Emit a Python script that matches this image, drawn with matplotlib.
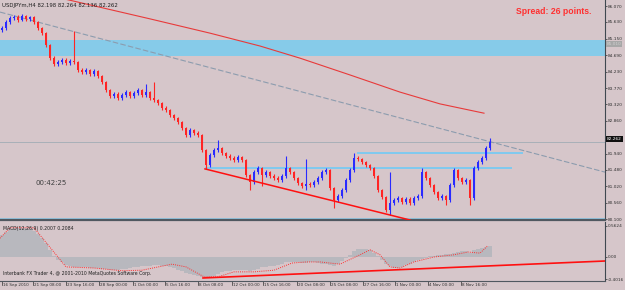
import matplotlib
matplotlib.use("Agg")
import matplotlib.pyplot as plt
import matplotlib.transforms as mtransforms

# ---------------- data ----------------
first_open = 85.40
close = [85.45, 85.62, 85.73, 85.76, 85.68, 85.79, 85.71, 85.76, 85.62, 85.45,
         85.31, 84.98, 84.61, 84.45, 84.50, 84.56, 84.47, 84.53, 84.50, 84.28,
         84.22, 84.28, 84.17, 84.25, 84.11, 83.94, 83.72, 83.55, 83.61, 83.49,
         83.58, 83.66, 83.55, 83.63, 83.72, 83.58, 83.66, 83.49, 83.44, 83.35,
         83.21, 83.16, 83.02, 82.93, 82.82, 82.65, 82.46, 82.60, 82.51, 82.46,
         82.04, 81.62, 81.90, 82.04, 82.09, 81.95, 81.87, 81.81, 81.76, 81.84,
         81.76, 81.34, 81.14, 81.42, 81.53, 81.34, 81.42, 81.31, 81.25, 81.20,
         81.31, 81.53, 81.42, 81.25, 81.11, 81.03, 81.09, 81.06, 81.14, 81.25,
         81.42, 81.48, 80.97, 80.64, 80.75, 80.92, 81.20, 81.48, 81.81, 81.78,
         81.70, 81.62, 81.53, 81.31, 80.92, 80.72, 80.36, 80.55, 80.64, 80.69,
         80.58, 80.67, 80.55, 80.69, 80.75, 81.42, 81.25, 81.06, 80.86, 80.69,
         80.75, 80.64, 81.06, 81.48, 81.25, 81.14, 81.20, 80.69, 81.53, 81.70,
         81.81, 82.09, 82.262]
high = [85.50, 85.67, 85.78, 85.81, 85.82, 85.84, 85.83, 85.80, 85.80, 85.66,
        85.49, 85.35, 85.02, 84.66, 84.56, 84.62, 84.61, 84.58, 85.37, 84.54,
        84.33, 84.33, 84.32, 84.30, 84.29, 84.15, 83.98, 83.76, 83.66, 83.65,
        83.63, 83.71, 83.70, 83.68, 83.77, 83.76, 83.89, 83.70, 83.94, 83.48,
        83.39, 83.26, 83.20, 83.06, 82.97, 82.86, 82.69, 82.65, 82.64, 82.56,
        82.50, 82.08, 81.95, 82.09, 82.32, 82.13, 81.99, 81.92, 81.86, 81.89,
        81.88, 81.80, 81.38, 81.47, 81.58, 81.57, 81.47, 81.46, 81.36, 81.30,
        81.36, 81.87, 81.57, 81.46, 81.29, 81.15, 81.79, 81.14, 81.19, 81.30,
        81.47, 81.53, 81.52, 81.01, 80.80, 80.97, 81.25, 81.53, 81.95, 81.86,
        81.82, 81.74, 81.66, 81.57, 81.35, 80.96, 80.76, 81.42, 80.69, 80.74,
        80.73, 80.72, 80.71, 80.74, 80.80, 81.53, 81.46, 81.29, 81.10, 80.90,
        80.80, 80.79, 81.11, 81.53, 81.52, 81.29, 81.25, 81.24, 81.58, 81.75,
        81.86, 82.14, 82.37]
low = [85.35, 85.40, 85.57, 85.68, 85.63, 85.64, 85.66, 85.66, 85.57, 85.40,
       85.26, 84.92, 84.55, 84.39, 84.40, 84.45, 84.42, 84.42, 84.45, 84.22,
       84.17, 84.17, 84.12, 84.12, 84.05, 83.88, 83.66, 83.49, 83.50, 83.44,
       83.44, 83.53, 83.50, 83.50, 83.58, 83.53, 83.53, 83.44, 83.39, 83.30,
       83.16, 83.11, 82.97, 82.88, 82.77, 82.60, 82.41, 82.41, 82.46, 82.41,
       81.98, 81.51, 81.57, 81.85, 81.99, 81.90, 81.82, 81.76, 81.71, 81.71,
       81.71, 81.28, 80.92, 81.09, 81.37, 81.03, 81.29, 81.26, 81.20, 81.15,
       81.15, 81.26, 81.37, 81.20, 81.06, 80.98, 80.92, 81.01, 81.01, 81.09,
       81.20, 81.37, 80.91, 80.41, 80.59, 80.70, 80.87, 81.15, 81.43, 81.73,
       81.65, 81.57, 81.48, 81.26, 80.86, 80.67, 80.30, 80.22, 80.50, 80.59,
       80.53, 80.53, 80.50, 80.50, 80.64, 80.70, 81.20, 81.01, 80.81, 80.64,
       80.64, 80.50, 80.59, 81.01, 81.20, 81.09, 81.09, 80.50, 80.64, 81.48,
       81.65, 81.76, 82.04]

# moving average (red curve) sampled at bar indices
ma_bars = [15.5, 37, 52, 64.5, 74.5, 87, 99.5, 109.5, 120.5]
ma_vals = [86.27, 85.71, 85.31, 84.95, 84.61, 84.14, 83.66, 83.33, 83.07]

# drawn objects
zone_low, zone_high = 84.67, 85.118
channel_bars, channel_vals = [-0.5, 150.75], [85.90, 81.42]
support_bars, support_vals = [50.75, 102.0], [81.51, 80.08]
res1_bars, res1_val = [88.75, 130.25], 81.955
res2_bars, res2_val = [50.75, 127.5], 81.535
floor_level = 80.100
bid = 82.262

# MACD
macd_hist = [0.40, 0.46, 0.50, 0.52, 0.53, 0.53, 0.52, 0.50, 0.47, 0.42,
             0.35, 0.25, 0.12, 0.02, -0.06, -0.10, -0.14, -0.16, -0.18, -0.18,
             -0.19, -0.19, -0.20, -0.20, -0.20, -0.21, -0.22, -0.23, -0.23, -0.23,
             -0.22, -0.21, -0.20, -0.19, -0.18, -0.17, -0.16, -0.16, -0.15, -0.15,
             -0.16, -0.17, -0.18, -0.20, -0.23, -0.26, -0.29, -0.31, -0.33, -0.34,
             -0.36, -0.38, -0.37, -0.34, -0.31, -0.28, -0.26, -0.25, -0.24, -0.23,
             -0.23, -0.24, -0.25, -0.23, -0.21, -0.19, -0.18, -0.17, -0.16, -0.14,
             -0.12, -0.10, -0.09, -0.09, -0.10, -0.11, -0.11, -0.10, -0.10, -0.11,
             -0.12, -0.13, -0.15, -0.16, -0.13, -0.08, -0.02, 0.04, 0.10, 0.14,
             0.15, 0.14, 0.12, 0.08, 0.02, -0.05, -0.12, -0.17, -0.20, -0.20,
             -0.18, -0.15, -0.12, -0.09, -0.06, -0.03, -0.01, 0.01, 0.02, 0.03,
             0.04, 0.05, 0.06, 0.08, 0.09, 0.10, 0.10, 0.08, 0.12, 0.15,
             0.17, 0.19, 0.2007]
signal_bars = [-0.5, 2, 8, 16, 23, 30, 35, 42.5, 46, 50.5, 54, 58, 63, 68, 72.5,
               76, 79.5, 84.5, 89.5, 92, 94.5, 97, 99.5, 103, 108, 113, 116.5,
               119.5, 121.5]
signal_vals = [0.34, 0.53, 0.53, -0.18, -0.20, -0.25, -0.24, -0.13, -0.18, -0.36,
               -0.36, -0.27, -0.27, -0.24, -0.11, -0.09, -0.09, -0.13, 0.04, 0.13,
               0.04, -0.18, -0.20, -0.09, 0.00, 0.04, 0.09, 0.07, 0.2084]
macd_trend_bars, macd_trend_vals = [50.25, 150.75], [-0.381, -0.073]

price_ticks = [86.070, 85.630, 85.150, 84.690, 84.230, 83.770, 83.320, 82.860,
               81.940, 81.480, 81.020, 80.560, 80.100]
macd_ticks = [0.5624, 0.0, -0.4016]
macd_tick_labels = ["0.5624", "0.00", "-0.4016"]
date_pos = [0, 7.75, 16, 24.25, 32.75, 40.75, 49, 57.5, 65.25, 73.75, 82,
            90.25, 98.25, 106.5, 114.75]
date_labels = ["16 Sep 2010", "21 Sep 08:00", "23 Sep 16:00", "28 Sep 00:00",
               "1 Oct 00:00", "5 Oct 16:00", "8 Oct 08:00", "12 Oct 00:00",
               "15 Oct 16:00", "20 Oct 08:00", "25 Oct 08:00", "27 Oct 16:00",
               "1 Nov 00:00", "4 Nov 00:00", "8 Nov 16:00"]

title_text = "USDJPYm,H4 82.198 82.264 82.136 82.262"
spread_text = "Spread: 26 points."
timer_text = "00:42:25"
macd_text = "MACD(12,26,9) 0.2007 0.2084"
copyright_text = "Interbank FX Trader 4, @ 2001-2010 MetaQuotes Software Corp."

# ---------------- style ----------------
W, H = 625, 290
BG = "#d6c6ca"
BULL = "#2a2aff"
BEAR = "#ff2424"
AXC = "#303030"
FONT = "DejaVu Sans"
TICK_FS = 3.1

fig = plt.figure(figsize=(W / 100, H / 100), dpi=100, facecolor=BG)

def fbox(x0, y0, x1, y1):
    return [x0 / W, 1 - y1 / H, (x1 - x0) / W, (y1 - y0) / H]

ax = fig.add_axes(fbox(0, 0, 605, 220))
ax2 = fig.add_axes(fbox(0, 222, 605, 281))
XL = (-0.5, 150.75)

for a in (ax, ax2):
    a.set_facecolor(BG)
    a.set_xlim(*XL)
    for s in ("left", "top"):
        a.spines[s].set_visible(False)
    a.spines["right"].set_color("#404850")
    a.spines["right"].set_linewidth(0.8)
    a.spines["bottom"].set_color("#505860")
    a.yaxis.tick_right()
    a.tick_params(axis="y", direction="out", length=1.5, width=0.5, pad=0.8,
                  labelsize=TICK_FS, colors=AXC)
    a.set_xticks([])

ax.set_ylim(80.08, 86.238)
ax.spines["bottom"].set_linewidth(1.6)
ax.set_yticks(price_ticks)
ax.set_yticklabels([f"{v:.3f}" for v in price_ticks], family=FONT)

# zone
ax.axhspan(zone_low, zone_high, color="#86cbe9", lw=0, zorder=1)
# floor level
ax.axhline(floor_level, color="#7fc8ea", lw=1.8, zorder=2)
# bid line
ax.axhline(bid, color="#a8b0b8", lw=0.7, zorder=2)
# channel (dashed)
ax.plot(channel_bars, channel_vals, color="#8c9cae", lw=0.8,
        ls=(0, (5, 2)), zorder=2)
# MA
ax.plot(ma_bars, ma_vals, color="#e83a3a", lw=0.8, zorder=2)
# resistance lines
ax.hlines([res1_val], res1_bars[0], res1_bars[1], color="#7fcaf0", lw=1.4, zorder=2)
ax.hlines([res2_val], res2_bars[0], res2_bars[1], color="#7fcaf0", lw=1.4, zorder=2)
# support
ax.plot(support_bars, support_vals, color="#ff1010", lw=1.1, zorder=4)

# candles
opens = [first_open] + close[:-1]
xs = list(range(len(close)))
cols = [BULL if c >= o else BEAR for o, c in zip(opens, close)]
ax.vlines(xs, low, high, colors=cols, lw=0.8, zorder=3)
bodies = [max(abs(c - o), 0.02) for o, c in zip(opens, close)]
bottoms = [min(o, c) for o, c in zip(opens, close)]
ax.bar(xs, bodies, bottom=bottoms, width=0.55, color=cols, lw=0, zorder=3)

# texts main
ax.text(0.004, 0.985, title_text, transform=ax.transAxes, fontsize=3.9,
        family=FONT, color="#202020", va="top", ha="left")
ax.text(516 / 605, 1 - 12 / 220, spread_text, transform=ax.transAxes,
        fontsize=6.2, family="Liberation Sans", color="#ff3030",
        va="center", ha="left", fontweight="bold")
ax.text(35 / 605, 1 - 183 / 220, timer_text, transform=ax.transAxes,
        fontsize=5.0, family=FONT, color="#404040", va="center", ha="left")

# current price box
fig.text(607 / W, 1 - 139 / H, f"{bid:.3f}", fontsize=TICK_FS, family=FONT,
         color="white", va="center", ha="left",
         bbox=dict(boxstyle="square,pad=0.15", fc="#101010", ec="none"))
fig.text(607 / W, 1 - 44 / H, "85.010", fontsize=TICK_FS, family=FONT,
         color="#d0d0d0", va="center", ha="left",
         bbox=dict(boxstyle="square,pad=0.15", fc="#a8a8a8", ec="none"))

# MACD pane
ax2.set_ylim(-0.436, 0.635)
ax2.spines["bottom"].set_linewidth(0.8)
ax2.set_yticks(macd_ticks)
ax2.set_yticklabels(macd_tick_labels, family=FONT)
ax2.bar(xs, macd_hist, width=0.8, color="#b8b8be", lw=0, zorder=1)
ax2.plot(signal_bars, signal_vals, color="#ff3030", lw=0.7, ls=(0, (1, 1.2)),
         zorder=2)
ax2.plot(macd_trend_bars, macd_trend_vals, color="#ff1010", lw=1.2, zorder=3)
ax2.text(0.005, 0.93, macd_text, transform=ax2.transAxes, fontsize=3.3,
         family=FONT, color="#202020", va="top", ha="left")
ax2.text(0.005, 0.12, copyright_text, transform=ax2.transAxes, fontsize=3.3,
         family=FONT, color="#202020", va="center", ha="left")

# date axis
trans = mtransforms.blended_transform_factory(ax2.transData, ax2.transAxes)
for p, lab in zip(date_pos, date_labels):
    ax2.plot([p, p], [0, -0.06], transform=trans, color=AXC, lw=0.5,
             clip_on=False)
    ax2.text(p + 0.35, -0.04, lab, transform=trans, fontsize=3.0, family=FONT,
             color=AXC, va="top", ha="left", clip_on=False)

fig.savefig("out.png", dpi=100, facecolor=BG)
